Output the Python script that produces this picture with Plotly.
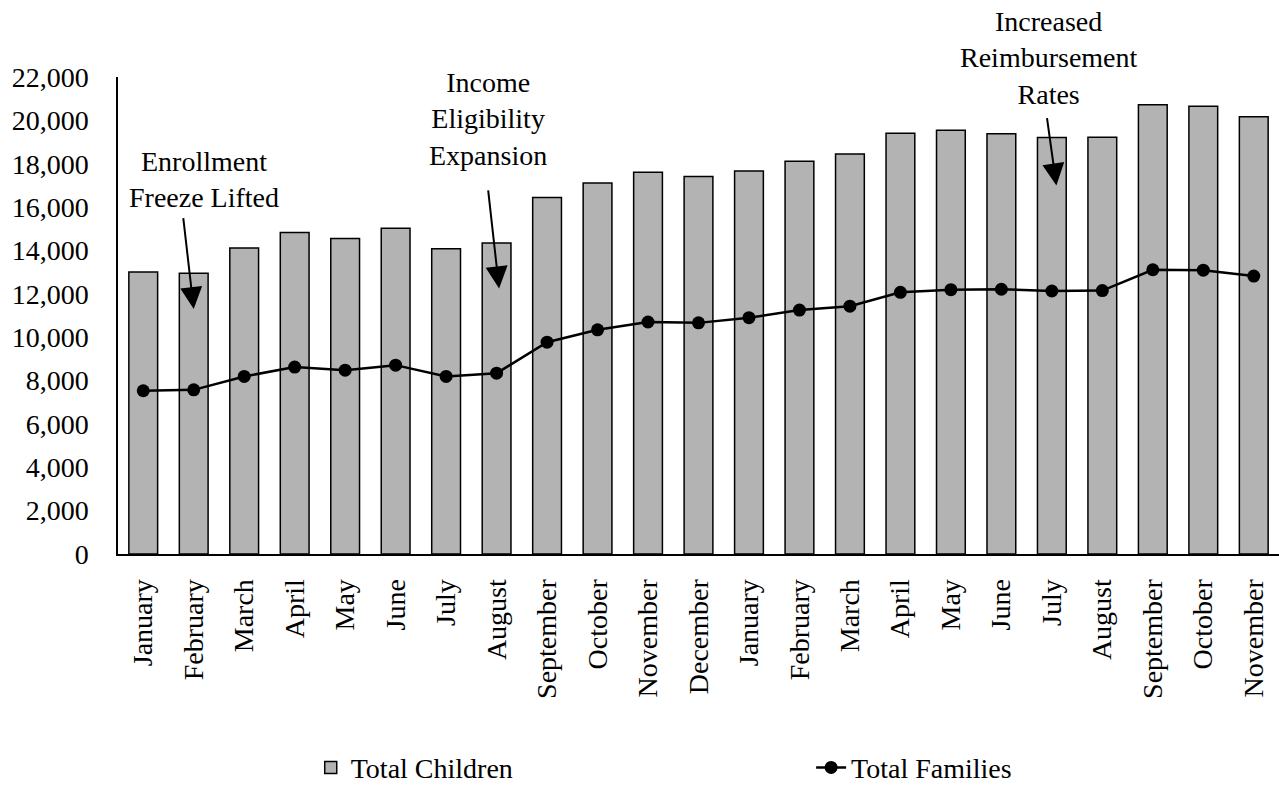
import plotly.graph_objects as go

# Monthly enrollment over 23 months
months = ["January", "February", "March", "April", "May", "June", "July",
          "August", "September", "October", "November", "December",
          "January", "February", "March", "April", "May", "June", "July",
          "August", "September", "October", "November"]
total_children = [13010, 12950, 14110, 14830, 14550, 15020, 14080, 14340,
                  16440, 17110, 17610, 17410, 17660, 18110, 18450, 19410,
                  19540, 19380, 19210, 19220, 20720, 20650, 20170]
total_families = [7530, 7570, 8190, 8620, 8480, 8710, 8190, 8340,
                  9770, 10340, 10700, 10660, 10900, 11250, 11430, 12070,
                  12190, 12210, 12130, 12150, 13110, 13090, 12820]

Y_MAX = 22000
y_ticks = list(range(0, Y_MAX + 1, 2000))

# Policy events: label text, label centre and arrow (tail -> head) in data units
events = [
    {"text": "Enrollment<br>Freeze Lifted", "x": 1.2, "y": 17250,
     "tail": (0.79, 15560), "head": (1.0, 11300)},
    {"text": "Income<br>Eligibility<br>Expansion", "x": 6.82, "y": 20050,
     "tail": (6.83, 16840), "head": (7.05, 12250)},
    {"text": "Increased<br>Reimbursement<br>Rates", "x": 17.95, "y": 22870,
     "tail": (17.9, 20170), "head": (18.09, 17000)},
]

FONT = "Liberation Serif, Times New Roman, serif"
idx = list(range(len(months)))

fig = go.Figure()
fig.add_trace(go.Bar(
    x=idx, y=total_children, name="Total Children",
    marker=dict(color="#b3b3b3", line=dict(color="black", width=1.5)),
    legend="legend",
))
fig.add_trace(go.Scatter(
    x=idx, y=total_families, name="Total Families", mode="lines+markers",
    line=dict(color="black", width=2.5),
    marker=dict(color="black", size=13),
    legend="legend2",
))

annotations = []
for ev in events:
    # label text placed in paper units so it may sit above the plot area
    annotations.append(dict(
        x=ev["x"], y=ev["y"] / Y_MAX, xref="x", yref="paper", text=ev["text"],
        showarrow=False, font=dict(family=FONT, size=28, color="black"),
        xanchor="center", yanchor="middle", align="center",
    ))
    annotations.append(dict(
        x=ev["head"][0], y=ev["head"][1], ax=ev["tail"][0], ay=ev["tail"][1],
        xref="x", yref="y", axref="x", ayref="y", text="",
        showarrow=True, arrowhead=2, arrowsize=2.2, arrowwidth=2,
        arrowcolor="black",
    ))

fig.update_layout(
    width=1279, height=793,
    margin=dict(l=118, r=0, t=77, b=234),
    paper_bgcolor="white", plot_bgcolor="white",
    font=dict(family=FONT, size=28, color="black"),
    bargap=0.43,
    showlegend=True,
    legend=dict(orientation="h", x=0.166, y=-0.448, xanchor="left",
                yanchor="middle", font=dict(size=28), bgcolor="rgba(0,0,0,0)"),
    legend2=dict(orientation="h", x=0.597, y=-0.448, xanchor="left",
                 yanchor="middle", font=dict(size=28), bgcolor="rgba(0,0,0,0)"),
    annotations=annotations,
)
fig.update_xaxes(
    tickmode="array", tickvals=idx, ticktext=months, tickangle=-90,
    range=[-0.5, len(months) - 0.5], showgrid=False, zeroline=False,
    showline=True, linecolor="black", linewidth=2, ticks="",
    ticklabelstandoff=12, tickfont=dict(size=28),
)
fig.update_yaxes(
    range=[0, Y_MAX], tickvals=y_ticks, tickformat=",", showgrid=False,
    zeroline=False, showline=True, linecolor="black", linewidth=1.5,
    ticks="", ticklabelstandoff=22, tickfont=dict(size=28),
)

fig.write_html("out.html")
